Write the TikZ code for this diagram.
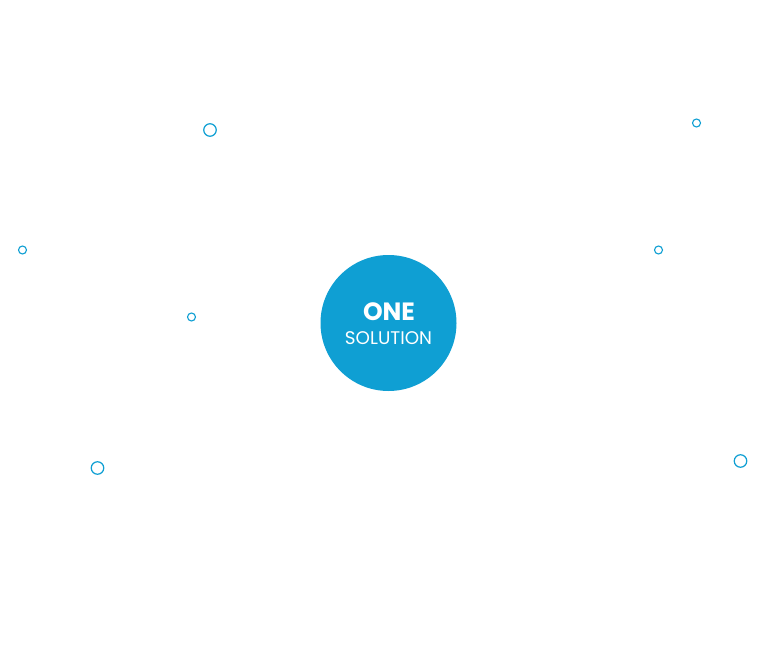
\documentclass[tikz,border=0pt]{standalone}
\usepackage{fontspec}
\setmainfont{Poppins}
\usepackage{tikz}
\usetikzlibrary{positioning}
\definecolor{solblue}{RGB}{15,159,211}
\tikzstyle{hub}=[fill=solblue,circle,minimum size=136pt,inner sep=0pt]
\tikzstyle{hubtext}=[text=white,inner sep=0pt,anchor=base]
\tikzstyle{bigdot}=[draw=solblue,line width=1.2pt,circle,minimum size=12.5pt,inner sep=0pt]
\tikzstyle{dot}=[draw=solblue,line width=1.1pt,circle,minimum size=8pt,inner sep=0pt]

\begin{document}
\begin{tikzpicture}[x=1pt,y=-1pt]
\useasboundingbox (0,0) rectangle (768,650);
\node [hub] (one) at (388.5,323) {};
\node [hubtext] (onetxt) at (389,320.5) {\fontsize{25}{25}\selectfont\bfseries ONE};
\node [hubtext] (soltxt) at (388.5,344.5) {\fontsize{18.3}{19}\selectfont SOLUTION};

\node [bigdot] (d1) at (210,130) {};
\node [dot] (d2) at (696.5,123) {};
\node [dot] (d3) at (22.5,250) {};
\node [dot] (d4) at (658.5,250) {};
\node [dot] (d5) at (191.5,317) {};
\node [bigdot] (d6) at (97.5,468) {};
\node [bigdot] (d7) at (740.5,461) {};
\end{tikzpicture}
\end{document}
